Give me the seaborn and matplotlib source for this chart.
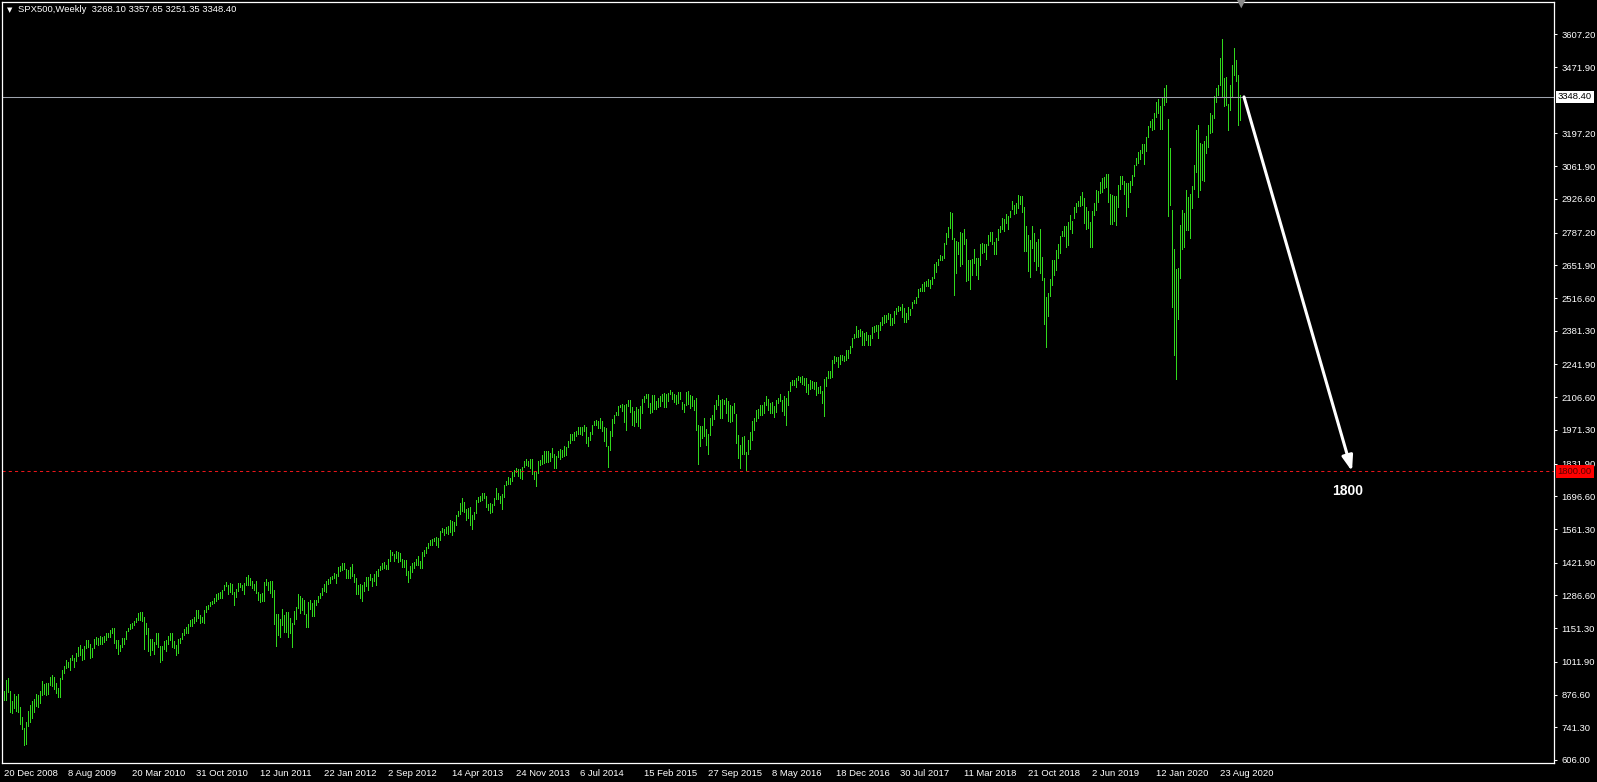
import numpy as np
import pandas as pd
import seaborn as sns
import matplotlib.pyplot as plt
import matplotlib.transforms as mtransforms

# Weekly SPX500 bars (low / high), Dec 2008 .. Nov 2020
week_low = [
    854, 854,
    887, 805, 802, 822, 810, 805, 754, 735, 666, 672, 746, 765, 779, 806, 830, 824, 840, 875, 877, 875, 878, 918,
    910, 900, 884, 868, 868, 940, 966, 987, 992, 979, 1019, 991, 1017, 1036, 1041, 1019, 1025, 1070, 1074, 1029,
    1030, 1069, 1087, 1083, 1086, 1085, 1093, 1102, 1114,
    1116, 1131, 1090, 1071, 1044, 1056, 1075, 1086, 1105, 1138, 1148, 1152, 1165, 1175, 1186, 1183, 1181, 1066,
    1126, 1056, 1040, 1060, 1043, 1084, 1072, 1011, 1018, 1063, 1056, 1087, 1104, 1074, 1069, 1040, 1049, 1091,
    1106, 1122, 1131, 1131, 1159, 1159, 1171, 1181, 1194, 1173, 1176, 1174, 1220, 1232, 1241, 1252,
    1257, 1263, 1271, 1275, 1276, 1309, 1324, 1294, 1302, 1291, 1249, 1280, 1305, 1322, 1309, 1294, 1331, 1330,
    1330, 1318, 1311, 1296, 1268, 1258, 1262, 1265, 1330, 1309, 1295, 1282, 1168, 1077, 1121, 1114, 1164, 1136,
    1137, 1114, 1131, 1075, 1170, 1191, 1233, 1215, 1226, 1209, 1158, 1158, 1231, 1202, 1202, 1248,
    1259, 1275, 1290, 1306, 1300, 1335, 1340, 1354, 1359, 1340, 1365, 1386, 1391, 1395, 1357, 1358, 1358, 1368,
    1343, 1292, 1292, 1277, 1262, 1306, 1324, 1309, 1352, 1325, 1345, 1329, 1365, 1391, 1397, 1398, 1397, 1396,
    1428, 1454, 1430, 1440, 1426, 1427, 1403, 1403, 1373, 1343, 1359, 1385, 1398, 1411, 1413, 1398, 1398,
    1451, 1461, 1484, 1496, 1495, 1510, 1497, 1485, 1514, 1549, 1538, 1546, 1539, 1548, 1536, 1555, 1577, 1614,
    1623, 1636, 1630, 1598, 1608, 1577, 1560, 1604, 1626, 1673, 1676, 1681, 1689, 1654, 1640, 1627, 1633, 1660,
    1686, 1687, 1670, 1646, 1692, 1743, 1746, 1746, 1761, 1780, 1799, 1779, 1772, 1768, 1819, 1827,
    1823, 1815, 1790, 1770, 1738, 1792, 1824, 1832, 1834, 1839, 1839, 1842, 1860, 1814, 1815, 1859, 1850, 1859,
    1862, 1868, 1901, 1915, 1929, 1930, 1944, 1956, 1953, 1951, 1965, 1916, 1905, 1928, 1956, 1990, 1990, 1978,
    1979, 1965, 1926, 1906, 1818, 1886, 1944, 2001, 2031, 2034, 2064, 2049, 2002, 1972, 2069, 2046,
    1992, 1988, 2004, 1989, 1981, 2041, 2085, 2103, 2067, 2039, 2045, 2056, 2057, 2067, 2072, 2091, 2067, 2067,
    2092, 2120, 2099, 2085, 2079, 2081, 2098, 2056, 2044, 2074, 2077, 2063, 2070, 2052, 1970, 1831, 1903, 1937,
    1944, 1908, 1872, 1950, 1990, 2018, 2058, 2076, 2022, 2019, 2080, 2042, 2008, 2005, 2006, 2043,
    1918, 1857, 1812, 1872, 1872, 1805, 1871, 1891, 1931, 1969, 2010, 2022, 2033, 2033, 2039, 2073, 2052, 2039,
    2043, 2025, 2047, 2084, 2089, 2050, 2032, 1991, 2074, 2131, 2155, 2155, 2147, 2177, 2168, 2159, 2157, 2127,
    2119, 2139, 2145, 2142, 2114, 2124, 2125, 2084, 2028, 2151, 2185, 2187, 2191, 2248, 2258, 2233,
    2245, 2262, 2258, 2262, 2267, 2288, 2316, 2350, 2357, 2354, 2358, 2322, 2322, 2344, 2322, 2322, 2350, 2378,
    2381, 2353, 2386, 2404, 2415, 2418, 2428, 2406, 2407, 2413, 2449, 2463, 2468, 2437, 2417, 2417, 2429, 2446,
    2474, 2495, 2494, 2520, 2547, 2547, 2544, 2566, 2566, 2557, 2576, 2600, 2624, 2652, 2673, 2673,
    2682, 2738, 2768, 2808, 2759, 2529, 2622, 2699, 2647, 2658, 2741, 2585, 2593, 2553, 2611, 2660, 2612, 2594,
    2655, 2702, 2707, 2676, 2735, 2754, 2742, 2699, 2698, 2758, 2789, 2802, 2795, 2825, 2802, 2853, 2884, 2864,
    2867, 2887, 2904, 2874, 2710, 2710, 2628, 2603, 2722, 2670, 2631, 2649, 2621, 2593, 2408, 2316, 2443,
    2524, 2570, 2612, 2631, 2682, 2704, 2772, 2774, 2728, 2735, 2800, 2785, 2848, 2873, 2898, 2898, 2900, 2825,
    2801, 2805, 2728, 2728, 2860, 2880, 2912, 2952, 2953, 2970, 2975, 2914, 2822, 2822, 2834, 2819, 2891, 2968,
    2990, 2946, 2855, 2892, 2953, 2986, 3023, 3066, 3075, 3091, 3115, 3070, 3124, 3183, 3223, 3212,
    3214, 3264, 3280, 3214, 3214, 3315, 3328, 2855, 2900, 2478, 2280, 2183, 2431, 2600, 2719, 2727, 2797, 2798,
    2766, 2890, 2969, 3038, 2936, 2965, 3005, 3000, 3115, 3141, 3199, 3204, 3260, 3329, 3355, 3398, 3349, 3310,
    3313, 3210, 3294, 3354, 3441, 3415, 3233, 3251,
]
week_high = [
    893, 937,
    945, 890, 851, 879, 871, 877, 826, 785, 740, 763, 808, 832, 850, 858, 879, 874, 890, 933, 922, 924, 924, 951,
    956, 949, 924, 903, 945, 980, 996, 1018, 1013, 1027, 1039, 1028, 1049, 1074, 1080, 1065, 1076, 1101, 1101, 1085,
    1070, 1106, 1113, 1112, 1119, 1114, 1117, 1130, 1130,
    1145, 1150, 1150, 1103, 1104, 1080, 1112, 1112, 1139, 1151, 1169, 1174, 1181, 1194, 1214, 1217, 1219, 1197,
    1173, 1150, 1105, 1106, 1092, 1131, 1131, 1078, 1078, 1100, 1103, 1120, 1130, 1130, 1100, 1081, 1105, 1110,
    1131, 1148, 1158, 1167, 1184, 1189, 1196, 1227, 1227, 1207, 1199, 1225, 1241, 1247, 1259, 1263,
    1278, 1294, 1296, 1302, 1311, 1330, 1344, 1331, 1336, 1333, 1301, 1315, 1338, 1340, 1330, 1337, 1364, 1370,
    1359, 1346, 1334, 1346, 1302, 1292, 1298, 1341, 1356, 1343, 1347, 1347, 1307, 1209, 1208, 1190, 1230, 1204,
    1220, 1220, 1195, 1171, 1224, 1239, 1293, 1285, 1277, 1266, 1208, 1261, 1267, 1255, 1267, 1269,
    1285, 1297, 1316, 1333, 1345, 1354, 1363, 1368, 1378, 1374, 1405, 1409, 1420, 1422, 1395, 1392, 1406, 1415,
    1374, 1357, 1328, 1334, 1329, 1343, 1363, 1362, 1377, 1357, 1377, 1386, 1395, 1407, 1419, 1426, 1414, 1438,
    1475, 1467, 1457, 1470, 1465, 1464, 1436, 1434, 1433, 1388, 1409, 1421, 1424, 1438, 1448, 1431, 1467,
    1473, 1485, 1503, 1514, 1518, 1525, 1530, 1525, 1552, 1564, 1560, 1570, 1573, 1597, 1593, 1592, 1618, 1634,
    1667, 1688, 1675, 1645, 1648, 1654, 1620, 1632, 1680, 1694, 1698, 1710, 1709, 1696, 1664, 1670, 1664, 1691,
    1730, 1711, 1696, 1704, 1745, 1759, 1775, 1774, 1798, 1805, 1813, 1810, 1811, 1819, 1842, 1849,
    1843, 1850, 1849, 1799, 1798, 1841, 1847, 1867, 1883, 1883, 1884, 1875, 1897, 1873, 1865, 1884, 1891, 1888,
    1903, 1902, 1925, 1955, 1956, 1964, 1968, 1985, 1983, 1985, 1991, 1984, 1943, 1964, 1993, 2006, 2011, 2008,
    2019, 2010, 1985, 1977, 1905, 1965, 2018, 2034, 2046, 2071, 2076, 2079, 2075, 2077, 2094, 2093,
    2064, 2049, 2064, 2057, 2072, 2097, 2111, 2119, 2118, 2083, 2114, 2114, 2089, 2103, 2111, 2120, 2125, 2121,
    2123, 2135, 2126, 2121, 2115, 2127, 2129, 2085, 2078, 2129, 2133, 2114, 2112, 2093, 2102, 1993, 1987, 1988,
    2021, 1974, 1953, 2020, 2034, 2075, 2094, 2116, 2093, 2097, 2095, 2104, 2090, 2076, 2068, 2081,
    2038, 1950, 1908, 1940, 1947, 1881, 1930, 1963, 2009, 2022, 2052, 2056, 2075, 2075, 2087, 2111, 2099, 2084,
    2085, 2071, 2094, 2103, 2120, 2095, 2113, 2103, 2131, 2169, 2178, 2177, 2186, 2194, 2190, 2193, 2184, 2187,
    2163, 2179, 2175, 2169, 2169, 2148, 2154, 2133, 2182, 2189, 2214, 2214, 2261, 2278, 2273, 2274,
    2281, 2279, 2277, 2301, 2300, 2319, 2352, 2369, 2401, 2386, 2390, 2382, 2372, 2378, 2362, 2362, 2398, 2400,
    2404, 2406, 2419, 2440, 2446, 2448, 2454, 2450, 2434, 2463, 2477, 2484, 2480, 2490, 2474, 2454, 2480, 2471,
    2500, 2509, 2520, 2552, 2557, 2575, 2582, 2588, 2597, 2590, 2605, 2657, 2665, 2680, 2695, 2692,
    2744, 2787, 2810, 2873, 2870, 2763, 2754, 2748, 2789, 2787, 2802, 2762, 2674, 2672, 2680, 2718, 2683, 2683,
    2742, 2743, 2742, 2742, 2779, 2790, 2790, 2750, 2763, 2804, 2816, 2848, 2842, 2864, 2855, 2877, 2916, 2901,
    2908, 2941, 2940, 2940, 2891, 2816, 2779, 2755, 2815, 2785, 2747, 2760, 2800, 2686, 2601, 2520, 2538,
    2597, 2675, 2672, 2717, 2738, 2775, 2794, 2813, 2816, 2831, 2861, 2836, 2894, 2910, 2916, 2940, 2954, 2932,
    2892, 2876, 2830, 2876, 2910, 2964, 2960, 2996, 3014, 3018, 3028, 3028, 2945, 2943, 2940, 2940, 2985, 3021,
    3022, 3002, 2993, 2993, 3000, 3027, 3067, 3097, 3120, 3127, 3154, 3154, 3183, 3226, 3248, 3258,
    3282, 3329, 3338, 3309, 3347, 3385, 3397, 3259, 3137, 2882, 2718, 2637, 2641, 2818, 2880, 2870, 2964, 2934,
    2945, 2981, 3068, 3211, 3233, 3156, 3155, 3166, 3186, 3233, 3280, 3272, 3352, 3387, 3399, 3509, 3588, 3425,
    3429, 3320, 3397, 3482, 3550, 3501, 3441, 3358,
]

# bottom axis labels, one every 32 bars
date_labels = ["20 Dec 2008", "8 Aug 2009", "20 Mar 2010", "31 Oct 2010", "12 Jun 2011",
               "22 Jan 2012", "2 Sep 2012", "14 Apr 2013", "24 Nov 2013", "6 Jul 2014",
               "15 Feb 2015", "27 Sep 2015", "8 May 2016", "18 Dec 2016", "30 Jul 2017",
               "11 Mar 2018", "21 Oct 2018", "2 Jun 2019", "12 Jan 2020", "23 Aug 2020"]
label_step = 32

price_ticks = [3607.20, 3471.90, 3197.20, 3061.90, 2926.60, 2787.20, 2651.90, 2516.60,
               2381.30, 2241.90, 2106.60, 1971.30, 1831.90, 1696.60, 1561.30, 1421.90,
               1286.60, 1151.30, 1011.90, 876.60, 741.30, 606.00]

last_bar = [3268.10, 3357.65, 3251.35, 3348.40]   # O H L C
target = 1800.00

df = pd.DataFrame({"low": week_low, "high": week_high})
df["bar"] = np.arange(len(df))

W, H = 1597, 782
sns.set_theme(style="dark", rc={"axes.facecolor": "black", "figure.facecolor": "black",
                                "axes.grid": False})
plt.rcParams["font.family"] = ["Liberation Sans", "DejaVu Sans"]

fig = plt.figure(figsize=(W / 100, H / 100), dpi=100)
ax = fig.add_axes([2.3 / W, 1 - 762.7 / H, 1552 / W, 760.4 / H])
ax.set_facecolor("black")

# price bars, 1px wide
ax.vlines(df["bar"], df["low"], df["high"], colors="#30d81c", linewidth=0.7, antialiased=False)

ax.set_xlim(-0.85, 775.15)
ax.set_ylim(594.8, 3739.6)

# bid line and target line
close = last_bar[3]
ax.axhline(close, color="#9ea3ad", linewidth=0.75)
ax.axhline(target, color="#e8161a", linewidth=0.75, linestyle=(0, (3, 3)))

# forecast arrow
n = len(df)
ax.annotate("", xy=(n + 55, target), xytext=(n + 1, close),
            arrowprops=dict(arrowstyle="-|>,head_length=0.9,head_width=0.32", color="white",
                            lw=2.2, shrinkA=0, shrinkB=0, mutation_scale=10))
ax.text(n + 53, 1718, f"{target:.0f}", color="white", fontsize=10, fontweight="bold",
        ha="center", va="center")

# axes look
for s in ax.spines.values():
    s.set_color("white")
    s.set_linewidth(0.9)
ax.yaxis.tick_right()
ax.set_yticks(price_ticks)
ax.set_yticklabels([f"{v:.2f}" for v in price_ticks])
ax.tick_params(axis="y", colors="white", length=2.5, width=0.75, pad=2.5, labelsize=6.8)
xt = [i * label_step for i in range(len(date_labels))]
ax.set_xticks(xt)
ax.set_xticklabels(date_labels, ha="left")
ax.tick_params(axis="x", colors="white", length=3, width=0.75, pad=1.5, labelsize=6.8)
ax.grid(False)

# price labels on the right scale
tr = mtransforms.blended_transform_factory(ax.transAxes, ax.transData)
ax.text(1.0022, close, f"{close:.2f}", transform=tr, color="black", fontsize=6.8,
        ha="left", va="center", bbox=dict(facecolor="white", edgecolor="none", pad=1.3))
ax.text(1.0022, target, f"{target:.2f}", transform=tr, color="#5a0000", fontsize=6.8,
        ha="left", va="center", bbox=dict(facecolor="#ff0000", edgecolor="none", pad=1.3))

# header
fig.text(9.5 / W, 1 - 10 / H, "\u25bc", color="white", fontsize=5, ha="center", va="center",
         family="DejaVu Sans")
fig.text(18 / W, 1 - 10 / H, "SPX500,Weekly  " + " ".join(f"{v:.2f}" for v in last_bar),
         color="white", fontsize=6.8, ha="left", va="center")
# chart shift marker
fig.text(1241 / W, 1 - 4 / H, "\u25bc", color="#8a8a8a", fontsize=8, ha="center", va="center",
         family="DejaVu Sans")

fig.savefig("out.png", dpi=100, facecolor="black")
